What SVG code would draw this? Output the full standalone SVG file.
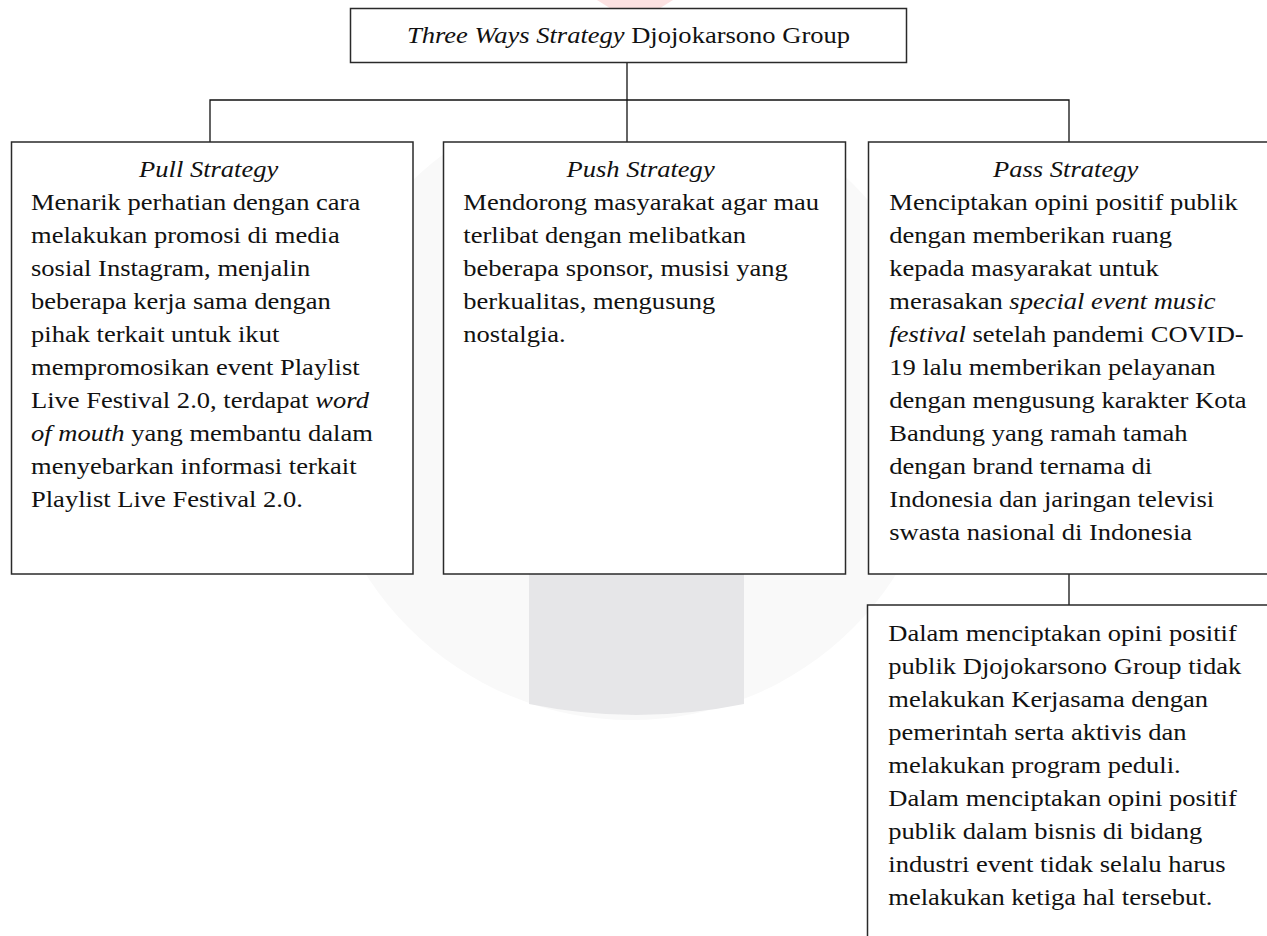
<svg xmlns="http://www.w3.org/2000/svg" width="1267" height="936" viewBox="0 0 1267 936">
<style>
.box{fill:#fff;stroke:#2a2a2a;stroke-width:1.5}
.conn{fill:none;stroke:#111;stroke-width:1.3}
.t{font-family:"Liberation Serif","Times New Roman",serif;font-size:22.3px;fill:#111}
.i{font-style:italic}
.mid{text-anchor:middle}
</style>
<defs>
<clipPath id="wmclip"><rect x="0" y="141" width="1267" height="795"/></clipPath>
</defs>
<rect width="1267" height="936" fill="#fff"/>
<g id="watermark">
<circle cx="631" cy="406" r="314" fill="#f9f9f9" clip-path="url(#wmclip)"/>
<path d="M529,560 L744,560 L744,704 Q636,726 529,704 Z" fill="#e6e6e8"/>
<path d="M597,0 L673,0 L657,10 L613,10 Z" fill="#fce2e2"/>
</g>
<g id="connectors">
<path class="conn" d="M627,62 V142"/>
<path class="conn" d="M210,142 V100 H1069 V142"/>
<path class="conn" d="M1069,574 V605"/>
</g>
<g id="root">
<rect class="box" x="350.5" y="8.5" width="556" height="54"/>
<text class="t mid" transform="translate(628.5 0) scale(1.19 1)" y="43"><tspan class="i">Three Ways Strategy</tspan> Djojokarsono Group</text>
</g>
<g id="pull">
<rect class="box" x="11.5" y="142" width="401.5" height="432"/>
<text class="t" transform="translate(31 0) scale(1.19 1)">
<tspan class="i mid" x="152.1" y="177">Pull Strategy</tspan>
<tspan x="0" y="210">Menarik perhatian dengan cara</tspan>
<tspan x="0" y="243">melakukan promosi di media</tspan>
<tspan x="0" y="276">sosial Instagram, menjalin</tspan>
<tspan x="0" y="309">beberapa kerja sama dengan</tspan>
<tspan x="0" y="342">pihak terkait untuk ikut</tspan>
<tspan x="0" y="375">mempromosikan event Playlist</tspan>
<tspan x="0" y="408">Live Festival 2.0, terdapat <tspan class="i">word</tspan></tspan>
<tspan x="0" y="441"><tspan class="i">of mouth</tspan> yang membantu dalam</tspan>
<tspan x="0" y="474">menyebarkan informasi terkait</tspan>
<tspan x="0" y="507">Playlist Live Festival 2.0.</tspan>
</text>
</g>
<g id="push">
<rect class="box" x="443.5" y="142" width="402" height="432"/>
<text class="t" transform="translate(463.3 0) scale(1.19 1)">
<tspan class="i mid" x="151.8" y="177">Push Strategy</tspan>
<tspan x="0" y="210">Mendorong masyarakat agar mau</tspan>
<tspan x="0" y="243">terlibat dengan melibatkan</tspan>
<tspan x="0" y="276">beberapa sponsor, musisi yang</tspan>
<tspan x="0" y="309">berkualitas, mengusung</tspan>
<tspan x="0" y="342">nostalgia.</tspan>
</text>
</g>
<g id="pass">
<rect class="box" x="868.5" y="142" width="420" height="432"/>
<text class="t" transform="translate(889.3 0) scale(1.19 1)">
<tspan class="i mid" x="151" y="177">Pass Strategy</tspan>
<tspan x="0" y="210">Menciptakan opini positif publik</tspan>
<tspan x="0" y="243">dengan memberikan ruang</tspan>
<tspan x="0" y="276">kepada masyarakat untuk</tspan>
<tspan x="0" y="309">merasakan <tspan class="i">special event music</tspan></tspan>
<tspan x="0" y="342"><tspan class="i">festival</tspan> setelah pandemi COVID-</tspan>
<tspan x="0" y="375">19 lalu memberikan pelayanan</tspan>
<tspan x="0" y="408">dengan mengusung karakter Kota</tspan>
<tspan x="0" y="441">Bandung yang ramah tamah</tspan>
<tspan x="0" y="474">dengan brand ternama di</tspan>
<tspan x="0" y="507">Indonesia dan jaringan televisi</tspan>
<tspan x="0" y="540">swasta nasional di Indonesia</tspan>
</text>
</g>
<g id="conclusion">
<rect class="box" x="867.5" y="605" width="420" height="360"/>
<text class="t" transform="translate(888.3 0) scale(1.19 1)">
<tspan x="0" y="641">Dalam menciptakan opini positif</tspan>
<tspan x="0" y="674">publik Djojokarsono Group tidak</tspan>
<tspan x="0" y="707">melakukan Kerjasama dengan</tspan>
<tspan x="0" y="740">pemerintah serta aktivis dan</tspan>
<tspan x="0" y="773">melakukan program peduli.</tspan>
<tspan x="0" y="806">Dalam menciptakan opini positif</tspan>
<tspan x="0" y="839">publik dalam bisnis di bidang</tspan>
<tspan x="0" y="872">industri event tidak selalu harus</tspan>
<tspan x="0" y="905">melakukan ketiga hal tersebut.</tspan>
</text>
</g>
</svg>
